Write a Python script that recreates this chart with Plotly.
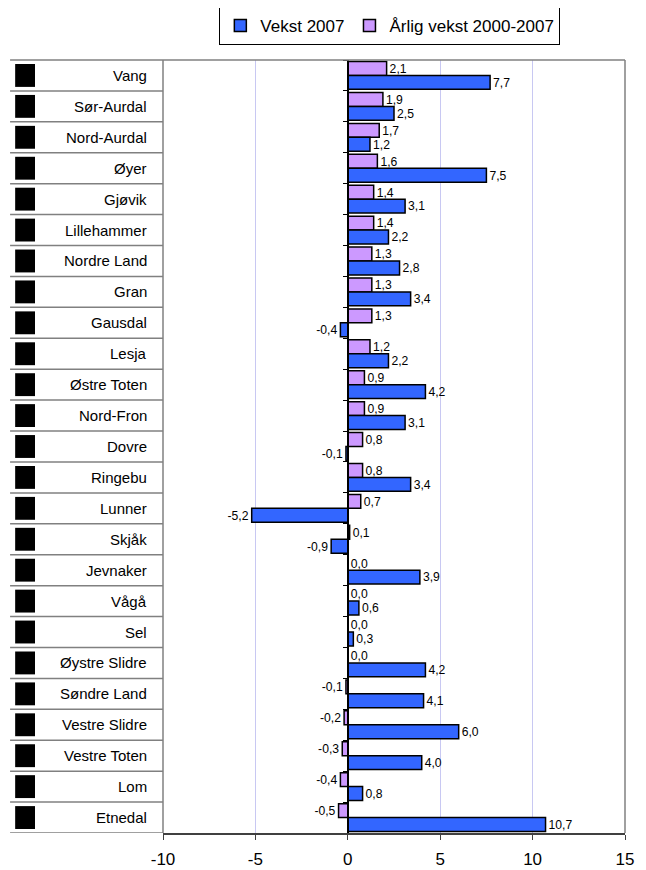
import plotly.graph_objects as go

categories = ["Vang", "Sør-Aurdal", "Nord-Aurdal", "Øyer", "Gjøvik", "Lillehammer",
              "Nordre Land", "Gran", "Gausdal", "Lesja", "Østre Toten", "Nord-Fron",
              "Dovre", "Ringebu", "Lunner", "Skjåk", "Jevnaker", "Vågå", "Sel",
              "Øystre Slidre", "Søndre Land", "Vestre Slidre", "Vestre Toten", "Lom", "Etnedal"]
vekst_2007 = [7.7, 2.5, 1.2, 7.5, 3.1, 2.2, 2.8, 3.4, -0.4, 2.2, 4.2, 3.1, -0.1, 3.4,
              -5.2, -0.9, 3.9, 0.6, 0.3, 4.2, 4.1, 6.0, 4.0, 0.8, 10.7]
arlig_vekst = [2.1, 1.9, 1.7, 1.6, 1.4, 1.4, 1.3, 1.3, 1.3, 1.2, 0.9, 0.9, 0.8, 0.8,
               0.7, 0.1, 0.0, 0.0, 0.0, 0.0, -0.1, -0.2, -0.3, -0.4, -0.5]
x_ticks = [-10, -5, 0, 5, 10, 15]

def fmt(v):
    return f"{v:.1f}".replace(".", ",")

FONT = "Liberation Sans, Arial, sans-serif"
n = len(categories)

fig = go.Figure()
fig.add_trace(go.Bar(
    y=categories, x=arlig_vekst, orientation="h", name="Årlig vekst 2000-2007",
    marker=dict(color="#CC99FF", line=dict(color="black", width=1.5)),
    text=[fmt(v) for v in arlig_vekst], textposition="outside",
    textfont=dict(size=14, color="black", family=FONT), cliponaxis=False,
    legendrank=2,
))
fig.add_trace(go.Bar(
    y=categories, x=vekst_2007, orientation="h", name="Vekst 2007",
    marker=dict(color="#3366FF", line=dict(color="black", width=1.5)),
    text=[fmt(v) for v in vekst_2007], textposition="outside",
    textfont=dict(size=14, color="black", family=FONT), cliponaxis=False,
    legendrank=1,
))

x0, x1 = x_ticks[0], x_ticks[-1]
zero_pos = (0 - x0) / (x1 - x0)

shapes = []
annotations = []
GRAY = "#808080"
tab_left = -0.331
shapes.append(dict(type="line", xref="paper", yref="paper", x0=tab_left, x1=1, y0=1, y1=1,
                   line=dict(color=GRAY, width=1.5)))
shapes.append(dict(type="line", xref="paper", yref="paper", x0=1, x1=1, y0=0, y1=1,
                   line=dict(color=GRAY, width=1.5)))
shapes.append(dict(type="line", xref="paper", yref="paper", x0=0, x1=0, y0=0, y1=1,
                   line=dict(color=GRAY, width=1.5)))
for i, c in enumerate(categories):
    shapes.append(dict(type="line", xref="paper", yref="y", x0=tab_left, x1=0,
                       y0=i + 0.5, y1=i + 0.5, line=dict(color=GRAY, width=1.5)))
    shapes.append(dict(type="rect", xref="paper", yref="y", x0=-0.320, x1=-0.277,
                       y0=i - 0.37, y1=i + 0.37, fillcolor="black", line=dict(width=0)))
    annotations.append(dict(xref="paper", yref="y", x=-0.030, y=i, text=c,
                            showarrow=False, xanchor="right", yanchor="middle",
                            font=dict(size=15, color="black", family=FONT)))

fig.update_layout(
    width=638, height=862,
    margin=dict(l=155, r=21, t=52, b=37, autoexpand=False),
    paper_bgcolor="white", plot_bgcolor="white",
    barmode="group", bargap=0.1, bargroupgap=0.0,
    font=dict(family=FONT, color="black"),
    showlegend=True,
    legend=dict(orientation="h", x=0.491, xanchor="center", y=1.0195, yanchor="bottom",
                bordercolor="black", borderwidth=1, bgcolor="white",
                font=dict(size=17, family=FONT), traceorder="normal",
                itemwidth=30, tracegroupgap=0),
    xaxis=dict(range=[x0, x1], tickvals=x_ticks, ticktext=[str(t) for t in x_ticks],
               showgrid=True, gridcolor="#C8C8F2", gridwidth=1, zeroline=False,
               showline=True, linecolor="#404040", linewidth=1.5,
               ticks="outside", ticklen=5, tickcolor="#404040",
               ticklabelstandoff=5,
               tickfont=dict(size=17, family=FONT, color="black")),
    yaxis=dict(range=[n - 0.5, -0.5], type="category", showticklabels=False,
               anchor="free", position=zero_pos, showline=True, linecolor="black",
               linewidth=1.5, ticks="outside", ticklen=4, tickson="boundaries",
               tickcolor="black", showgrid=False, zeroline=False),
    shapes=shapes, annotations=annotations,
)

fig.write_html("out.html")
